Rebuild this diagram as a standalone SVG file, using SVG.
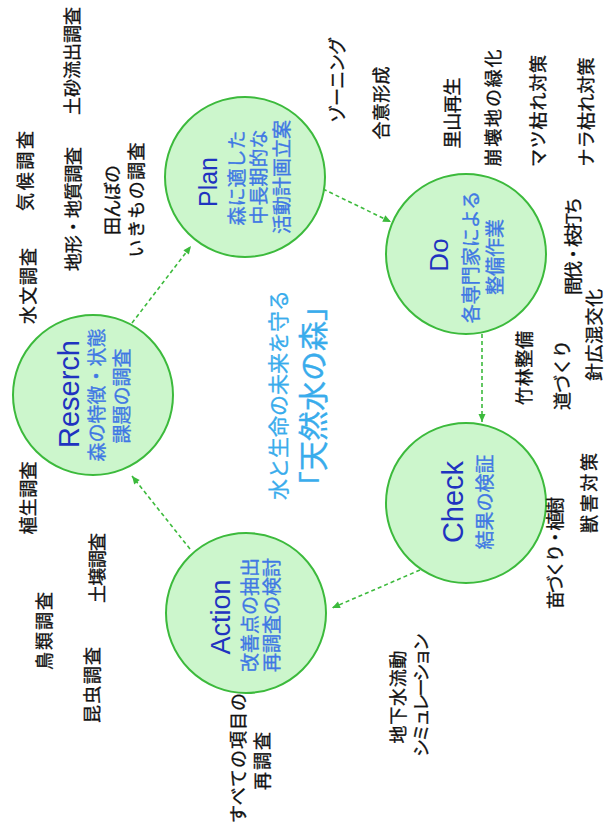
<svg xmlns="http://www.w3.org/2000/svg" width="605" height="839" viewBox="0 0 605 839">
<style>
.node circle{fill:#ccf6cc;stroke:#3cba3c;stroke-width:2}
.ttl{font-family:"Liberation Sans",Arial,sans-serif;fill:#1f33c0;text-anchor:middle}
.sub{font-family:"Noto Sans CJK JP",sans-serif;font-size:19px;fill:#3f78e4;stroke:#3f78e4;stroke-width:0.35;text-anchor:middle}
.lbl{font-family:"Noto Sans CJK JP",sans-serif;font-size:18px;fill:#111;stroke:#111;stroke-width:0.35;text-anchor:middle}
.ctr{font-family:"Noto Sans CJK JP",sans-serif;fill:#39acec;stroke:#39acec;stroke-width:0.3;text-anchor:middle}
.conn line{stroke:#3cba3c;stroke-width:1.6;stroke-dasharray:4 3;marker-end:url(#ah)}
</style>
<defs>
<marker id="ah" markerUnits="userSpaceOnUse" markerWidth="10" markerHeight="10" viewBox="0 0 10 10" refX="9" refY="5" orient="auto">
<path d="M1,1.5 L9,5 L1,8.5 Z" fill="#3cba3c"/>
</marker>
</defs>
<rect width="605" height="839" fill="#fff"/>
<g id="connectors" class="conn">
<line x1="132" y1="323" x2="191" y2="246"/>
<line x1="323" y1="189" x2="391" y2="222"/>
<line x1="482" y1="334" x2="482" y2="422"/>
<line x1="420" y1="570" x2="332" y2="608"/>
<line x1="190" y1="549" x2="132" y2="476"/>
</g>
<g id="node-plan" class="node">
<circle cx="245" cy="177" r="80"/>
<text class="ttl" font-size="25" transform="translate(217,182) rotate(-90)">Plan</text>
<text class="sub" transform="translate(244,178) rotate(-90)">森に適した</text>
<text class="sub" transform="translate(266,177) rotate(-90)">中長期的な</text>
<text class="sub" transform="translate(289,177) rotate(-90)">活動計画立案</text>
</g>
<g id="node-do" class="node">
<circle cx="466" cy="254" r="80"/>
<text class="ttl" font-size="26" transform="translate(448,255) rotate(-90)">Do</text>
<text class="sub" transform="translate(478,257) rotate(-90)">各専門家による</text>
<text class="sub" transform="translate(502,257) rotate(-90)">整備作業</text>
</g>
<g id="node-check" class="node">
<circle cx="466" cy="503" r="80"/>
<text class="ttl" font-size="29" transform="translate(463,502) rotate(-90)">Check</text>
<text class="sub" transform="translate(492,502) rotate(-90)">結果の検証</text>
</g>
<g id="node-action" class="node">
<circle cx="246" cy="613" r="80"/>
<text class="ttl" font-size="27" transform="translate(230,617) rotate(-90)">Action</text>
<text class="sub" transform="translate(257,615) rotate(-90)">改善点の抽出</text>
<text class="sub" transform="translate(279,615) rotate(-90)">再調査の検討</text>
</g>
<g id="node-research" class="node">
<circle cx="93" cy="395" r="80"/>
<text class="ttl" font-size="29" transform="translate(79,394) rotate(-90)">Reserch</text>
<text class="sub" transform="translate(104,395) rotate(-90)">森の特徴・状態</text>
<text class="sub" transform="translate(129,396) rotate(-90)">課題の調査</text>
</g>
<g id="center-title">
<text class="ctr" font-size="21" transform="translate(286,395) rotate(-90)">水と生命の未来を守る</text>
<text class="ctr" font-size="30" transform="translate(324,396) rotate(-90)">「天然水の森」</text>
</g>
<g id="labels">
<text class="lbl" transform="translate(79,61) rotate(-90)" textLength="108" lengthAdjust="spacing">土砂流出調査</text>
<text class="lbl" transform="translate(32,171) rotate(-90)" textLength="80" lengthAdjust="spacing">気候調査</text>
<text class="lbl" transform="translate(80,209) rotate(-90)" textLength="124" lengthAdjust="spacing">地形・地質調査</text>
<text class="lbl" transform="translate(119,200) rotate(-90)" textLength="70" lengthAdjust="spacing">田んぼの</text>
<text class="lbl" transform="translate(143,200) rotate(-90)" textLength="115" lengthAdjust="spacing">いきもの調査</text>
<text class="lbl" transform="translate(35,286) rotate(-90)" textLength="76" lengthAdjust="spacing">水文調査</text>
<text class="lbl" transform="translate(35,498) rotate(-90)" textLength="73" lengthAdjust="spacing">植生調査</text>
<text class="lbl" transform="translate(104,568) rotate(-90)" textLength="70" lengthAdjust="spacing">土壌調査</text>
<text class="lbl" transform="translate(51,631) rotate(-90)" textLength="78" lengthAdjust="spacing">鳥類調査</text>
<text class="lbl" transform="translate(99,685) rotate(-90)" textLength="76" lengthAdjust="spacing">昆虫調査</text>
<text class="lbl" transform="translate(245,758) rotate(-90)" textLength="130" lengthAdjust="spacing">すべての項目の</text>
<text class="lbl" transform="translate(269,761) rotate(-90)" textLength="58" lengthAdjust="spacing">再調査</text>
<text class="lbl" transform="translate(344,80) rotate(-90)" textLength="86" lengthAdjust="spacing">ゾーニング</text>
<text class="lbl" transform="translate(388,103) rotate(-90)" textLength="73" lengthAdjust="spacing">合意形成</text>
<text class="lbl" transform="translate(459,113) rotate(-90)" textLength="71" lengthAdjust="spacing">里山再生</text>
<text class="lbl" transform="translate(500,108) rotate(-90)" textLength="117" lengthAdjust="spacing">崩壊地の緑化</text>
<text class="lbl" transform="translate(545,111) rotate(-90)" textLength="112" lengthAdjust="spacing">マツ枯れ対策</text>
<text class="lbl" transform="translate(593,112) rotate(-90)" textLength="109" lengthAdjust="spacing">ナラ枯れ対策</text>
<text class="lbl" transform="translate(580,246) rotate(-90)" textLength="98" lengthAdjust="spacing">間伐・枝打ち</text>
<text class="lbl" transform="translate(531,368) rotate(-90)" textLength="74" lengthAdjust="spacing">竹林整備</text>
<text class="lbl" transform="translate(569,375) rotate(-90)" textLength="70" lengthAdjust="spacing">道づくり</text>
<text class="lbl" transform="translate(601,335) rotate(-90)" textLength="92" lengthAdjust="spacing">針広混交化</text>
<text class="lbl" transform="translate(596,493) rotate(-90)" textLength="80" lengthAdjust="spacing">獣害対策</text>
<text class="lbl" transform="translate(562,553) rotate(-90)" textLength="112" lengthAdjust="spacing">苗づくり・植樹</text>
<text class="lbl" transform="translate(405,697) rotate(-90)" textLength="93" lengthAdjust="spacing">地下水流動</text>
<text class="lbl" transform="translate(428,695) rotate(-90)" textLength="124" lengthAdjust="spacing">シミュレーション</text>
</g>
</svg>
